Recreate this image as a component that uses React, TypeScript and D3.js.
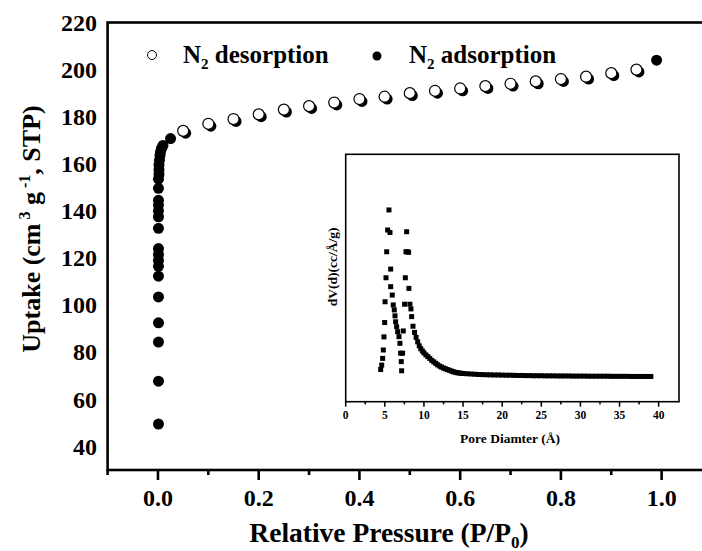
import React from 'react';
import * as d3 from 'd3';

const W = 702;
const H = 551;

// Main isotherm data
const desorptionX = [0.05, 0.1, 0.15, 0.2, 0.25, 0.3, 0.35, 0.4, 0.45, 0.5, 0.55, 0.6, 0.65, 0.7, 0.75, 0.8, 0.85, 0.9, 0.95];
const desorptionY = [174, 177, 179, 181, 183, 184.5, 186, 187.5, 188.5, 190, 191, 192, 193, 194, 195, 196, 197, 198.5, 200];

const adsorptionX = [
  0.001, 0.001, 0.001, 0.001, 0.001, 0.001, 0.001, 0.001, 0.001, 0.001,
  0.001, 0.001, 0.001, 0.001, 0.001, 0.001, 0.001, 0.002, 0.002, 0.002,
  0.003, 0.004, 0.005, 0.007, 0.01, 0.025,
  0.055, 0.105, 0.155, 0.205, 0.255, 0.305, 0.355, 0.405, 0.455, 0.505,
  0.555, 0.605, 0.655, 0.705, 0.755, 0.805, 0.855, 0.905, 0.955, 0.99,
];
const adsorptionY = [
  49.5, 67.7, 84.3, 92.5, 103.5, 112.3, 116.5, 119, 121.5, 124,
  132.6, 137.5, 140, 142.5, 144.5, 149.6, 153.5, 155.5, 157.5, 159.5,
  161.5, 163.5, 165, 166.5, 167.8, 170.7,
  173, 176, 178, 180, 182, 183.5, 185, 186.5, 187.5, 189,
  190, 191, 192, 193, 194, 195, 196, 197.5, 199, 204,
];

const xTickLabels = ['0.0', '0.2', '0.4', '0.6', '0.8', '1.0'];
const yTickValues = [40, 60, 80, 100, 120, 140, 160, 180, 200, 220];

// Inset pore size distribution (arbitrary dV units)
const poreD = [
  4.47, 4.6, 4.72, 4.81, 4.89, 4.98, 5.03, 5.15, 5.24, 5.36, 5.53, 5.66, 5.75, 5.75, 5.95,
  6.08, 6.21, 6.3, 6.38, 6.51, 6.64, 6.81, 6.93, 7.02, 7.1, 7.15, 7.27, 7.36, 7.53, 7.62,
  7.7, 7.79, 7.87, 8.04, 8.08, 8.21, 8.34, 8.43,
  8.6, 8.8, 9.0, 9.2, 9.4, 9.6, 9.8, 10.0, 10.25, 10.5, 10.75, 11.0, 11.25, 11.5, 11.75,
  12.0, 12.25, 12.5, 12.75, 13.0, 13.25, 13.5, 13.75, 14.0, 14.25, 14.5, 14.75, 15.0,
  15.5, 16.0, 16.5, 17.0, 17.5, 18.0, 18.5, 19.0, 19.5, 20.0, 20.5, 21.0, 21.5, 22.0,
  22.5, 23.0, 23.5, 24.0, 24.5, 25.0, 25.5, 26.0, 26.5, 27.0, 27.5, 28.0, 28.5, 29.0,
  29.5, 30.0, 30.5, 31.0, 31.5, 32.0, 32.5, 33.0, 33.5, 34.0, 34.5, 35.0, 35.5, 36.0,
  36.5, 37.0, 37.5, 38.0, 38.5, 39.0,
];
const poreV = [
  0.13, 0.148, 0.175, 0.209, 0.262, 0.32, 0.404, 0.501, 0.606, 0.694, 0.775, 0.684, 0.536, 0.465, 0.431,
  0.391, 0.371, 0.347, 0.323, 0.303, 0.283, 0.263, 0.236, 0.196, 0.162, 0.125, 0.196, 0.286, 0.394, 0.501,
  0.606, 0.687, 0.606, 0.604, 0.458, 0.394, 0.375, 0.344,
  0.305, 0.28, 0.26, 0.242, 0.226, 0.214, 0.205, 0.197, 0.189, 0.182, 0.175, 0.167, 0.161, 0.155, 0.149,
  0.144, 0.14, 0.136, 0.133, 0.13, 0.127, 0.124, 0.121, 0.119, 0.117, 0.116, 0.115, 0.114,
  0.113, 0.112, 0.111, 0.11, 0.1095, 0.109, 0.1085, 0.108, 0.108, 0.1075, 0.107, 0.107, 0.1065, 0.106,
  0.106, 0.1055, 0.1055, 0.105, 0.105, 0.105, 0.1045, 0.1045, 0.1045, 0.104, 0.104, 0.104, 0.104, 0.1035,
  0.1035, 0.1035, 0.1035, 0.103, 0.103, 0.103, 0.103, 0.103, 0.103, 0.1025, 0.1025, 0.1025, 0.1025, 0.1025,
  0.102, 0.102, 0.102, 0.102, 0.102, 0.102,
];
const insetTickLabels = ['0', '5', '10', '15', '20', '25', '30', '35', '40'];

const FONT = '"Liberation Serif", "Times New Roman", Times, serif';

export default function App() {
  const x = d3.scaleLinear().domain([-0.1, 1.1]).range([107.6, 712]);
  const y = d3.scaleLinear().domain([30, 220]).range([470, 22.5]);
  const ix = d3.scaleLinear().domain([0, 42.6]).range([345.7, 679]);
  const iy = d3.scaleLinear().domain([0, 1]).range([401.7, 154.3]);

  const majorX = xTickLabels.map((t) => +t);
  const allX = x.ticks(12);
  const minorX = allX.filter((t) => !majorX.some((m) => Math.abs(m - t) < 1e-6));

  const majorI = insetTickLabels.map((t) => +t);
  const allI = d3.range(0, 42.5, 2.5);
  const minorI = allI.filter((t) => !majorI.includes(t));

  const r = 5.5;

  return (
    <svg
      width={W}
      height={H}
      style={{ position: 'absolute', left: 0, top: 0, background: '#fff' }}
      fontFamily={FONT}
      fontWeight="bold"
    >
      <rect x={0} y={0} width={W} height={H} fill="#fff" />

      {/* main frame */}
      <rect
        x={x(-0.1)}
        y={y(220)}
        width={x(1.1) - x(-0.1)}
        height={y(30) - y(220)}
        fill="none"
        stroke="#000"
        strokeWidth={2.6}
      />

      {/* x ticks */}
      {majorX.map((t) => (
        <line key={'mx' + t} x1={x(t)} x2={x(t)} y1={y(30)} y2={y(30) + 10} stroke="#000" strokeWidth={2.6} />
      ))}
      {minorX.map((t) => (
        <line key={'nx' + t} x1={x(t)} x2={x(t)} y1={y(30)} y2={y(30) + 5} stroke="#000" strokeWidth={2.6} />
      ))}
      {xTickLabels.map((t) => (
        <text key={'lx' + t} x={x(+t)} y={506} fontSize={24} textAnchor="middle">
          {t}
        </text>
      ))}
      {yTickValues.map((t) => (
        <text key={'ly' + t} x={97} y={y(t)} dy="0.34em" fontSize={24} textAnchor="end">
          {t}
        </text>
      ))}

      {/* axis titles */}
      <text x={389} y={542} fontSize={27.5} textAnchor="middle">
        Relative Pressure (P/P
        <tspan dy={6} fontSize={17}>0</tspan>
        <tspan dy={-6}>)</tspan>
      </text>
      <text transform="translate(40,229) rotate(-90)" fontSize={26} textAnchor="middle">
        Uptake (cm
        <tspan dy={-10} fontSize={16}> 3</tspan>
        <tspan dy={10}> g</tspan>
        <tspan dy={-10} fontSize={16}> -1</tspan>
        <tspan dy={10}>, STP)</tspan>
      </text>

      {/* legend */}
      <circle cx={152} cy={55} r={4.5} fill="#fff" stroke="#000" strokeWidth={1} />
      <text x={183} y={63} fontSize={25}>
        N<tspan dy={6} fontSize={15}>2</tspan>
        <tspan dy={-6}> desorption</tspan>
      </text>
      <circle cx={377} cy={56} r={4.5} fill="#000" />
      <text x={409} y={63} fontSize={25}>
        N<tspan dy={6} fontSize={15}>2</tspan>
        <tspan dy={-6}> adsorption</tspan>
      </text>

      {/* adsorption (filled) */}
      {adsorptionX.map((v, i) => (
        <circle key={'a' + i} cx={x(v)} cy={y(adsorptionY[i])} r={r} fill="#000" />
      ))}
      {/* desorption (open) */}
      {desorptionX.map((v, i) => (
        <circle key={'d' + i} cx={x(v)} cy={y(desorptionY[i])} r={r} fill="#fff" stroke="#000" strokeWidth={1.2} />
      ))}

      {/* inset */}
      <rect
        x={ix(0)}
        y={iy(1)}
        width={ix(42.6) - ix(0)}
        height={iy(0) - iy(1)}
        fill="#fff"
        stroke="#000"
        strokeWidth={1.6}
      />
      {majorI.map((t) => (
        <line key={'mi' + t} x1={ix(t)} x2={ix(t)} y1={iy(0)} y2={iy(0) + 5} stroke="#000" strokeWidth={1.5} />
      ))}
      {minorI.map((t) => (
        <line key={'ni' + t} x1={ix(t)} x2={ix(t)} y1={iy(0)} y2={iy(0) + 2.7} stroke="#000" strokeWidth={1.5} />
      ))}
      {insetTickLabels.map((t) => (
        <text key={'li' + t} x={ix(+t)} y={419} fontSize={11.5} textAnchor="middle">
          {t}
        </text>
      ))}
      <text x={510} y={443} fontSize={13.5} textAnchor="middle">
        Pore Diamter (Å)
      </text>
      <text transform="translate(337,267) rotate(-90)" fontSize={13.5} textAnchor="middle">
        dV(d)(cc/Å/g)
      </text>
      {poreD.map((d, i) => (
        <rect key={'p' + i} x={ix(d) - 2.5} y={iy(poreV[i]) - 2.5} width={5} height={5} fill="#000" />
      ))}
    </svg>
  );
}
